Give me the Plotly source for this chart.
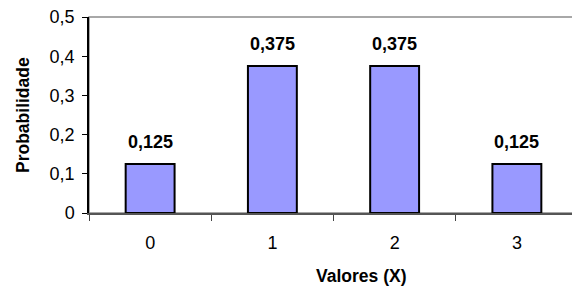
import plotly.graph_objects as go

categories = ["0", "1", "2", "3"]
values = [0.125, 0.375, 0.375, 0.125]
bar_labels = ["0,125", "0,375", "0,375", "0,125"]
y_tickvals = [0, 0.1, 0.2, 0.3, 0.4, 0.5]
y_ticktext = ["0", "0,1", "0,2", "0,3", "0,4", "0,5"]

FONT = "Liberation Sans, Arial"

fig = go.Figure()
fig.add_trace(go.Bar(
    x=categories, y=values, width=0.4,
    marker=dict(color="#9999FF", line=dict(color="#000000", width=2)),
    hoverinfo="skip",
))
for c, v, t in zip(categories, values, bar_labels):
    fig.add_annotation(x=c, y=v, text="<b>%s</b>" % t, showarrow=False,
                       yanchor="bottom", yshift=10,
                       font=dict(family=FONT, size=18, color="#000"))

fig.add_annotation(xref="paper", yref="paper", x=(361 - 89) / 489, y=(213 - 276) / 196,
                   text="<b>Valores (X)</b>", showarrow=False,
                   xanchor="center", yanchor="middle",
                   font=dict(family=FONT, size=17.5, color="#000"))
fig.add_annotation(xref="paper", yref="paper", x=(23 - 89) / 489, y=0.5,
                   text="<b>Probabilidade</b>", showarrow=False, textangle=-90,
                   xanchor="center", yanchor="middle",
                   font=dict(family=FONT, size=17.5, color="#000"))

fig.add_shape(type="rect", xref="paper", yref="paper", x0=0, x1=1, y0=0, y1=1,
              line=dict(color="#8c8c8c", width=1.5), layer="below")

fig.update_layout(
    width=572, height=285,
    margin=dict(l=81, r=2, t=9, b=80),
    paper_bgcolor="white", plot_bgcolor="white",
    showlegend=False,
    font=dict(family=FONT, size=18, color="#000"),
    xaxis=dict(
        type="category", tickson="boundaries", ticks="outside", ticklen=6,
        tickcolor="#444", showline=True, linecolor="#555", linewidth=1.5,
        showgrid=False, ticklabelstandoff=13, automargin=False,
        ticklabeloverflow="allow",
    ),
    yaxis=dict(
        range=[0, 0.5], tickvals=y_tickvals, ticktext=y_ticktext,
        ticks="outside", ticklen=5, tickcolor="#000",
        showline=True, linecolor="#000", linewidth=1.5,
        showgrid=False, zeroline=False, ticklabelstandoff=4, automargin=False,
        ticklabeloverflow="allow",
    ),
)
fig.write_html("out.html")
